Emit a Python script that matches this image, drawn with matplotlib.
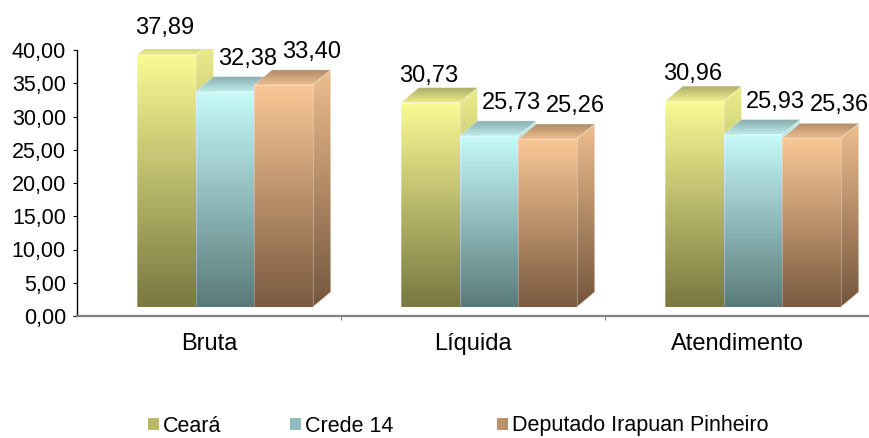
import numpy as np
import matplotlib.pyplot as plt
from matplotlib.patches import Polygon, Patch
from matplotlib.colors import to_rgb

# Data
categories = ['Bruta', 'Líquida', 'Atendimento']
series = ['Ceará', 'Crede 14', 'Deputado Irapuan Pinheiro']
ceara = [37.89, 30.73, 30.96]
crede = [32.38, 25.73, 25.93]
deputado = [33.40, 25.26, 25.36]
values = [ceara, crede, deputado]
yticks = np.arange(0, 45, 5)

# gradient colours, light at the top and dark at the bottom
top_colors = ['#FAFA96', '#C8FAFA', '#FAC896']
bottom_colors = ['#787840', '#5A7A7A', '#7A5A40']

plt.rcParams['font.family'] = ['Liberation Sans', 'DejaVu Sans']

fig = plt.figure(figsize=(8.7, 4.38), dpi=100)
ax = fig.add_axes([77 / 870, 1 - 316 / 438, 792 / 870, 266 / 438])

# fake 3D geometry (Excel style)
width = 0.222
offset = -0.273
dx, dy = 0.068, 2.26
base = 1.35
label_dx = [-1, 16.5, 20]   # points
label_dy = [8.5, 13, 13]    # points


def shade(c, f):
    return tuple(min(1.0, v * f) for v in to_rgb(c))


def gradient_face(verts, c_top, c_bottom, z):
    poly = Polygon(verts, closed=True, facecolor='none',
                   edgecolor=(1, 1, 1, 0.35), lw=0.6, zorder=z + 0.01, clip_on=False)
    ax.add_patch(poly)
    xs = [v[0] for v in verts]
    ys = [v[1] for v in verts]
    g = np.linspace(0, 1, 256)[:, None]
    top = np.array(to_rgb(c_top))
    bot = np.array(to_rgb(c_bottom))
    img = (top * (1 - g) + bot * g)[:, None, :]
    im = ax.imshow(img, extent=(min(xs), max(xs), min(ys), max(ys)), aspect='auto',
                   origin='upper', zorder=z, interpolation='bilinear')
    im.set_clip_box(None)
    im.set_clip_path(poly)


for i in range(len(categories)):
    for j in range(len(series)):
        v = values[j][i]
        x0 = i + offset + j * width
        x1 = x0 + width
        y0 = base
        y1 = base + v
        z = 2 + j
        ct, cb = top_colors[j], bottom_colors[j]
        # side face
        gradient_face([(x1, y0), (x1 + dx, y0 + dy), (x1 + dx, y1 + dy), (x1, y1)],
                      shade(ct, 0.95), shade(cb, 0.95), z)
        # top face (dark at the back, light at the front)
        gradient_face([(x0, y1), (x1, y1), (x1 + dx, y1 + dy), (x0 + dx, y1 + dy)],
                      shade(ct, 0.68), shade(ct, 0.95), z + 0.2)
        # front face
        gradient_face([(x0, y0), (x1, y0), (x1, y1), (x0, y1)], ct, cb, z + 0.4)
        ax.annotate(f'{v:.2f}'.replace('.', ','), xy=(x0 + width / 2, y1 + dy),
                    xytext=(label_dx[j], label_dy[j]), textcoords='offset points',
                    ha='center', va='center', fontsize=17, annotation_clip=False, zorder=10)

ax.set_xlim(-0.5, 2.5)
ax.set_ylim(0, 40)

ax.spines['top'].set_visible(False)
ax.spines['right'].set_visible(False)
ax.spines['left'].set_color('black')
ax.spines['left'].set_linewidth(1)
ax.spines['bottom'].set_color('#808080')
ax.spines['bottom'].set_linewidth(1.6)

ax.set_yticks(yticks)
ax.set_yticklabels([f'{t:.2f}'.replace('.', ',') for t in yticks], fontsize=15.5)
ax.tick_params(axis='y', direction='out', length=3, width=0.8, pad=5)

ax.set_xticks(range(len(categories)))
ax.set_xticklabels(categories, fontsize=17)
ax.set_xticks([0.5, 1.5], minor=True)
ax.tick_params(axis='x', which='major', length=0, pad=12)
ax.tick_params(axis='x', which='minor', length=3, width=0.8, color='#808080', direction='out')

# legend: one entry per series, placed like the original
legend_x = [148, 290, 497]
for t, b, s, lx in zip(top_colors, bottom_colors, series, legend_x):
    mid = tuple((np.array(to_rgb(t)) + np.array(to_rgb(b))) / 2)
    leg = fig.legend(handles=[Patch(facecolor=mid, edgecolor='none', label=s)],
                     loc='center left', bbox_to_anchor=(lx / 870, 1 - 426 / 438),
                     frameon=False, fontsize=15.5, handlelength=0.5, handleheight=0.5,
                     handletextpad=0.2, borderpad=0, borderaxespad=0)

fig.savefig('out.png', dpi=100)
